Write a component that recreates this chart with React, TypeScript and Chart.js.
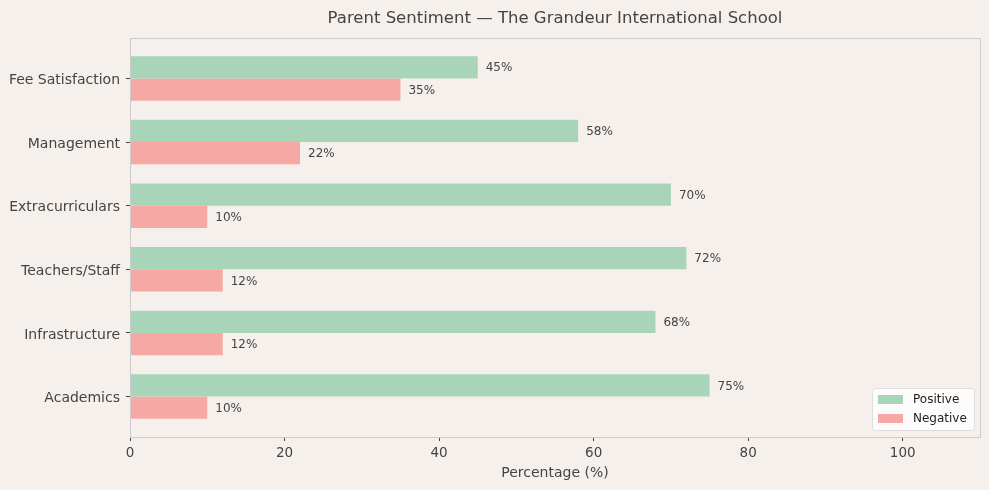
import React, { useEffect, useRef } from "react";
import { Chart, registerables } from "chart.js";
Chart.register(...registerables);

const categories = ["Academics", "Infrastructure", "Teachers/Staff", "Extracurriculars", "Management", "Fee Satisfaction"];
const positive = [75, 68, 72, 70, 58, 45];
const negative = [10, 12, 12, 10, 22, 35];
const xTicks = [0, 20, 40, 60, 80, 100];
const titleText = "Parent Sentiment \u2014 The Grandeur International School";
const FONT = "'DejaVu Sans', sans-serif";
const TEXT = "#444444";

const framePlugin = {
  id: "frame",
  afterDraw(chart: any) {
    const { ctx, chartArea: a } = chart;
    ctx.save();
    ctx.strokeStyle = "#cccccc";
    ctx.lineWidth = 1;
    ctx.strokeRect(Math.round(a.left) + 0.5, Math.round(a.top) + 0.5, Math.round(a.right - a.left), Math.round(a.bottom - a.top));
    // title
    ctx.fillStyle = TEXT;
    ctx.font = `16.5px ${FONT}`;
    ctx.textAlign = "center";
    ctx.textBaseline = "middle";
    ctx.fillText(titleText, (a.left + a.right) / 2, 19);
    // value labels
    ctx.font = `12px ${FONT}`;
    ctx.textAlign = "left";
    chart.data.datasets.forEach((ds: any, di: number) => {
      const meta = chart.getDatasetMeta(di);
      meta.data.forEach((el: any, i: number) => {
        ctx.fillText(ds.data[i].x + "%", el.x + 8, el.y + 1);
      });
    });
    // legend
    const w = 102, h = 42;
    const lx = a.right - 6 - w, ly = a.bottom - 7 - h;
    ctx.fillStyle = "rgba(255,255,255,0.8)";
    ctx.strokeStyle = "#dddddd";
    ctx.beginPath();
    (ctx as any).roundRect(lx + 0.5, ly + 0.5, w, h, 3);
    ctx.fill();
    ctx.stroke();
    chart.data.datasets.forEach((ds: any, di: number) => {
      const ry = ly + 11 + di * 19;
      ctx.fillStyle = ds.backgroundColor;
      ctx.fillRect(lx + 6, ry - 4, 25, 9);
      ctx.fillStyle = "#222222";
      ctx.font = `12px ${FONT}`;
      ctx.textBaseline = "middle";
      ctx.fillText(ds.label, lx + 41, ry + 1);
    });
    ctx.restore();
  },
};

export default function App() {
  const ref = useRef<HTMLCanvasElement>(null);
  useEffect(() => {
    document.body.style.margin = "0";
    document.body.style.background = "#f5f0ec";
    const chart = new Chart(ref.current!, {
      type: "bar",
      data: {
        datasets: [
          { label: "Positive", data: positive.map((v, i) => ({ x: v, y: i })), backgroundColor: "#a8d5ba" },
          { label: "Negative", data: negative.map((v, i) => ({ x: v, y: i })), backgroundColor: "#f6a8a4" },
        ],
      },
      options: {
        indexAxis: "y",
        animation: false,
        responsive: false,
        maintainAspectRatio: false,
        layout: { padding: { top: 38, right: 9, left: 0, bottom: 0 } },
        datasets: { bar: { categoryPercentage: 0.7, barPercentage: 1.0 } },
        plugins: { legend: { display: false }, title: { display: false }, tooltip: { enabled: false } },
        scales: {
          x: {
            type: "linear",
            min: 0,
            max: 110,
            afterBuildTicks: (s: any) => { s.ticks = xTicks.map((v) => ({ value: v })); },
            afterFit: (s: any) => { s.height = 53; },
            grid: { drawOnChartArea: false, tickLength: 4, tickColor: "#444444" },
            border: { color: "#cccccc" },
            ticks: { color: TEXT, font: { family: FONT, size: 13.5 }, padding: 4 },
            title: { display: true, text: "Percentage (%)", color: TEXT, font: { family: FONT, size: 14 }, padding: { top: 4, bottom: 8 } },
          },
          y: {
            type: "linear",
            offset: false,
            min: -0.635,
            max: 5.635,
            afterBuildTicks: (s: any) => { s.ticks = categories.map((_, i) => ({ value: i })); },
            afterFit: (s: any) => { s.width = 130; },
            grid: { drawOnChartArea: false, offset: false, tickLength: 4, tickColor: "#444444" },
            border: { color: "#cccccc" },
            ticks: { color: TEXT, font: { family: FONT, size: 14 }, padding: 6, labelOffset: 2, callback: (v: any) => categories[v as number] ?? "" },
          },
        },
      },
      plugins: [framePlugin],
    } as any);
    return () => chart.destroy();
  }, []);
  return (
    <div style={{ width: 989, height: 490, background: "#f5f0ec" }}>
      <canvas ref={ref} width={989} height={490} style={{ display: "block" }} />
    </div>
  );
}
